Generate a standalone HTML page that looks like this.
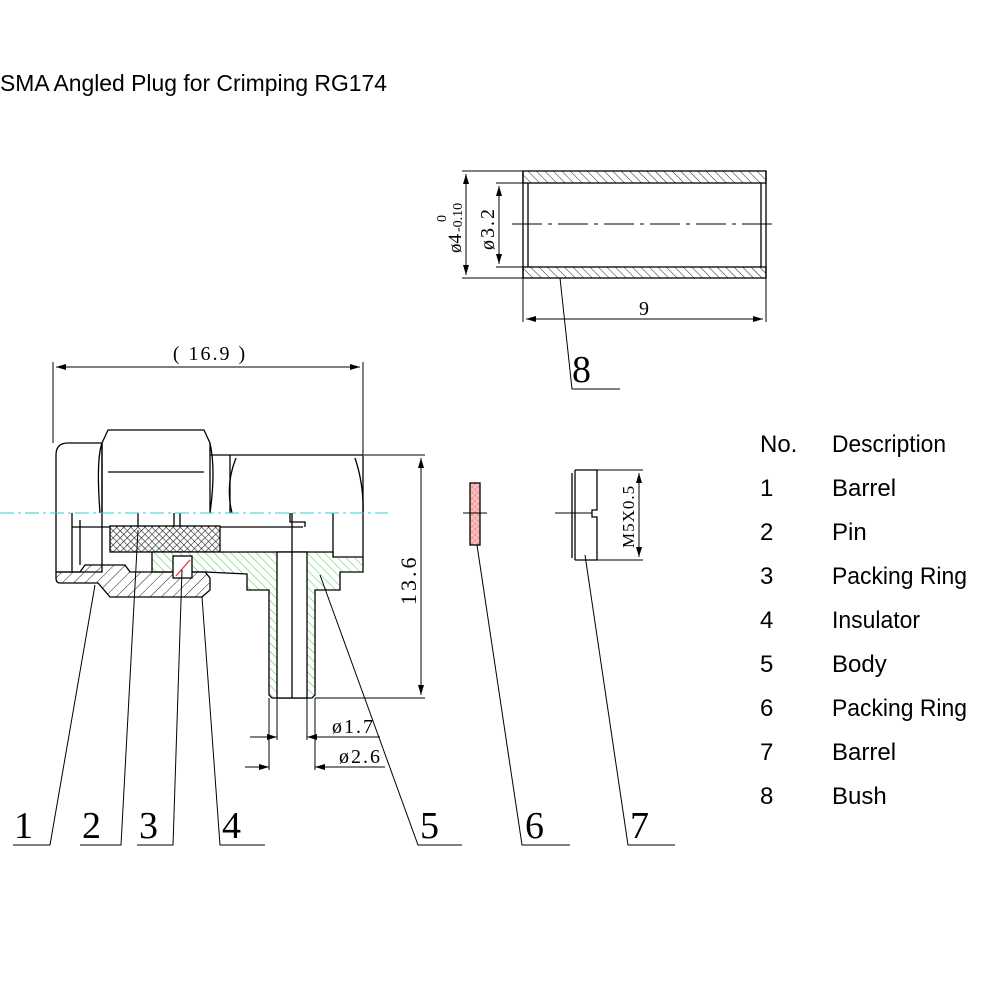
<!DOCTYPE html>
<html><head><meta charset="utf-8"><style>
html,body{margin:0;padding:0;background:#fff;}
svg{display:block}
</style></head><body>
<svg width="995" height="995" viewBox="0 0 995 995" xmlns="http://www.w3.org/2000/svg">
<defs>
<pattern id="hb" width="8" height="8" patternUnits="userSpaceOnUse" patternTransform="rotate(45)"><line x1="0" y1="0" x2="0" y2="8" stroke="#222" stroke-width="1"/></pattern>
<pattern id="hg" width="6" height="6" patternUnits="userSpaceOnUse" patternTransform="rotate(-45)"><rect width="6" height="6" fill="#fff"/><line x1="0" y1="0" x2="0" y2="6" stroke="#4c4" stroke-width="1"/></pattern>
<pattern id="hx" width="5" height="5" patternUnits="userSpaceOnUse" patternTransform="rotate(45)"><rect width="5" height="5" fill="#fff"/><line x1="0" y1="0" x2="0" y2="5" stroke="#222" stroke-width="1.2"/><line x1="0" y1="0" x2="5" y2="0" stroke="#222" stroke-width="1.2"/></pattern>
<pattern id="hp" width="4" height="4" patternUnits="userSpaceOnUse" patternTransform="rotate(45)"><rect width="4" height="4" fill="#f4a0a0"/><line x1="0" y1="0" x2="0" y2="4" stroke="#fff" stroke-width="0.8"/><line x1="0" y1="0" x2="4" y2="0" stroke="#fff" stroke-width="0.8"/></pattern>
<pattern id="hd" width="6" height="6" patternUnits="userSpaceOnUse" patternTransform="rotate(-45)"><line x1="0" y1="0" x2="0" y2="6" stroke="#222" stroke-width="1"/></pattern>
<marker id="ar" markerWidth="10" markerHeight="6" refX="10" refY="3" orient="auto-start-reverse" markerUnits="userSpaceOnUse"><path d="M0,0 L10,3 L0,6z" fill="#000"/></marker>
</defs>
<text x="0" y="91" font-family="Liberation Sans, sans-serif" font-size="23" fill="#000" textLength="387" lengthAdjust="spacingAndGlyphs">SMA Angled Plug for Crimping RG174</text>

<g fill="none" stroke="#000" stroke-width="1.3">
<!-- bush -->
<rect x="523" y="171" width="243" height="12" fill="url(#hd)"/>
<rect x="523" y="267" width="243" height="11" fill="url(#hd)"/>
<line x1="528" y1="183" x2="528" y2="267"/><line x1="761" y1="183" x2="761" y2="267"/>
<line x1="523" y1="171" x2="523" y2="278"/><line x1="766" y1="171" x2="766" y2="278"/>
<line x1="512" y1="224" x2="778" y2="224" stroke-dasharray="30,6,4,6" stroke-width="1"/>
<line x1="462" y1="171" x2="523" y2="171" stroke-width="1"/><line x1="462" y1="278" x2="523" y2="278" stroke-width="1"/>
<line x1="466" y1="174" x2="466" y2="275" marker-start="url(#ar)" marker-end="url(#ar)" stroke-width="1"/>
<line x1="496" y1="183" x2="523" y2="183" stroke-width="1"/><line x1="496" y1="267" x2="523" y2="267" stroke-width="1"/>
<line x1="499" y1="186" x2="499" y2="264" marker-start="url(#ar)" marker-end="url(#ar)" stroke-width="1"/>
<line x1="523" y1="278" x2="523" y2="322" stroke-width="1"/><line x1="766" y1="278" x2="766" y2="322" stroke-width="1"/>
<line x1="526" y1="319" x2="763" y2="319" marker-start="url(#ar)" marker-end="url(#ar)" stroke-width="1"/>
<polyline points="560,278 572,389 620,389" stroke-width="1"/>

<!-- 16.9 dim -->
<line x1="53" y1="362" x2="53" y2="443" stroke-width="1"/><line x1="363" y1="362" x2="363" y2="455" stroke-width="1"/>
<line x1="56" y1="367" x2="360" y2="367" marker-start="url(#ar)" marker-end="url(#ar)" stroke-width="1"/>

<!-- nut -->
<path d="M56,455 Q56,443 68,443 L102,443 L102,572 L56,572 Z"/>
<path d="M102,443 L108,430 L204,430 L210,443 L210,513 M102,443 L102,513 M108,472 L204,472 M102,443 Q96,460 100,513 M210,443 Q216,470 210,513"/>
<line x1="210" y1="455" x2="363" y2="455"/>
<line x1="230" y1="455" x2="230" y2="513"/>
<path d="M236,458 Q225,485 232,513 M355,458 Q364,485 363,513"/>
<line x1="363" y1="455" x2="363" y2="557"/>
<line x1="333" y1="513" x2="333" y2="557"/>
<line x1="72" y1="513" x2="72" y2="572"/><line x1="80" y1="520" x2="80" y2="565"/>
<line x1="72" y1="527" x2="110" y2="527"/>
<path d="M220,527 L303,527 M290,513 L290,522 L305,522 L305,527"/>
<line x1="292" y1="513" x2="292" y2="552"/>
<!-- insulator -->
<rect x="110" y="526" width="110" height="26" fill="url(#hx)"/>
<line x1="138" y1="513" x2="138" y2="526"/><line x1="174" y1="513" x2="174" y2="526"/><line x1="180" y1="513" x2="180" y2="526"/>
<!-- body green -->
<path d="M152,552 L333,552 L333,557 L363,557 L363,572 L340,572 L340,590 L315,590 L315,695 L312,698 L272,698 L269,695 L269,590 L247,590 L247,574 L205,572 L152,572 Z" fill="url(#hg)"/>
<rect x="277" y="552" width="30" height="146" fill="#fff"/>
<line x1="292" y1="552" x2="292" y2="698"/>
<!-- barrel 1 -->
<path d="M56,572 L80,572 L85,565 L125,565 L130,572 L205,572 L210,578 L210,590 L202,597 L110,597 L98,583 L60,583 Q56,583 56,578 Z" fill="url(#hb)"/>
<rect x="173" y="556" width="19" height="22" fill="#fff"/>
<line x1="176" y1="576" x2="190" y2="560" stroke="#e33"/>
<!-- axis -->
<line x1="0" y1="513" x2="388" y2="513" stroke="#3cc" stroke-dasharray="14,4,3,4" stroke-width="1"/>

<!-- 13.6 -->
<line x1="364" y1="455" x2="425" y2="455" stroke-width="1"/><line x1="315" y1="698" x2="425" y2="698" stroke-width="1"/>
<line x1="421" y1="458" x2="421" y2="695" marker-start="url(#ar)" marker-end="url(#ar)" stroke-width="1"/>
<!-- dia dims -->
<line x1="277" y1="698" x2="277" y2="740" stroke-width="1"/><line x1="307" y1="698" x2="307" y2="740" stroke-width="1"/>
<line x1="269" y1="698" x2="269" y2="770" stroke-width="1"/><line x1="315" y1="698" x2="315" y2="770" stroke-width="1"/>
<line x1="250" y1="737" x2="277" y2="737" marker-end="url(#ar)" stroke-width="1"/><line x1="380" y1="737" x2="307" y2="737" marker-end="url(#ar)" stroke-width="1"/>
<line x1="245" y1="767" x2="269" y2="767" marker-end="url(#ar)" stroke-width="1"/><line x1="385" y1="767" x2="315" y2="767" marker-end="url(#ar)" stroke-width="1"/>

<!-- part 6 -->
<rect x="470" y="483" width="10" height="62" fill="url(#hp)"/>
<line x1="463" y1="513" x2="487" y2="513" stroke-width="1"/>
<!-- part 7 -->
<path d="M575,470 L597,470 L597,510 L592,510 L592,517 L597,517 L597,560 L575,560 M572,473 L572,558 M575,470 L575,560"/>
<line x1="555" y1="513" x2="592" y2="513" stroke-width="1"/>
<line x1="597" y1="470" x2="643" y2="470" stroke-width="1"/><line x1="597" y1="560" x2="643" y2="560" stroke-width="1"/>
<line x1="639" y1="473" x2="639" y2="557" marker-start="url(#ar)" marker-end="url(#ar)" stroke-width="1"/>

<!-- leaders -->
<g stroke-width="1">
<polyline points="95,585 50,845 13,845"/>
<polyline points="138,530 121,845 80,845"/>
<polyline points="182,570 173,845 137,845"/>
<polyline points="202,597 220,845 265,845"/>
<polyline points="320,575 418,845 462,845"/>
<polyline points="477,545 522,845 570,845"/>
<polyline points="585,555 628,845 675,845"/>
</g>
</g>

<g font-family="Liberation Serif, serif" fill="#000">
<text x="210" y="360" font-size="20" text-anchor="middle" letter-spacing="2">( 16.9 )</text>
<text x="644" y="315" font-size="20" text-anchor="middle">9</text>
<text x="572" y="382" font-size="38">8</text>
<text transform="translate(461,253) rotate(-90)" font-size="19">ø4</text>
<text transform="translate(446,222) rotate(-90)" font-size="14">0</text>
<text transform="translate(462,232) rotate(-90)" font-size="14">-0.10</text>
<text transform="translate(494,250) rotate(-90)" font-size="20" letter-spacing="2">ø3.2</text>
<text transform="translate(416,605) rotate(-90)" font-size="22" letter-spacing="3">13.6</text>
<text transform="translate(634,548) rotate(-90)" font-size="17" letter-spacing="1">M5X0.5</text>
<text x="332" y="733" font-size="20" letter-spacing="2">ø1.7</text>
<text x="339" y="763" font-size="20" letter-spacing="2">ø2.6</text>
<g font-size="38">
<text x="14" y="838">1</text><text x="82" y="838">2</text><text x="139" y="838">3</text><text x="222" y="838">4</text>
<text x="420" y="838">5</text><text x="525" y="838">6</text><text x="630" y="838">7</text>
</g>
</g>

<g font-family="Liberation Sans, sans-serif" font-size="24" fill="#000">
<text x="760" y="452">No.</text><text x="832" y="452" textLength="114" lengthAdjust="spacingAndGlyphs">Description</text>
<text x="760" y="496">1</text><text x="832" y="496">Barrel</text>
<text x="760" y="540">2</text><text x="832" y="540">Pin</text>
<text x="760" y="584">3</text><text x="832" y="584" textLength="135" lengthAdjust="spacingAndGlyphs">Packing Ring</text>
<text x="760" y="628">4</text><text x="832" y="628" textLength="88" lengthAdjust="spacingAndGlyphs">Insulator</text>
<text x="760" y="672">5</text><text x="832" y="672">Body</text>
<text x="760" y="716">6</text><text x="832" y="716" textLength="135" lengthAdjust="spacingAndGlyphs">Packing Ring</text>
<text x="760" y="760">7</text><text x="832" y="760">Barrel</text>
<text x="760" y="804">8</text><text x="832" y="804">Bush</text>
</g>
</svg>
</body></html>
